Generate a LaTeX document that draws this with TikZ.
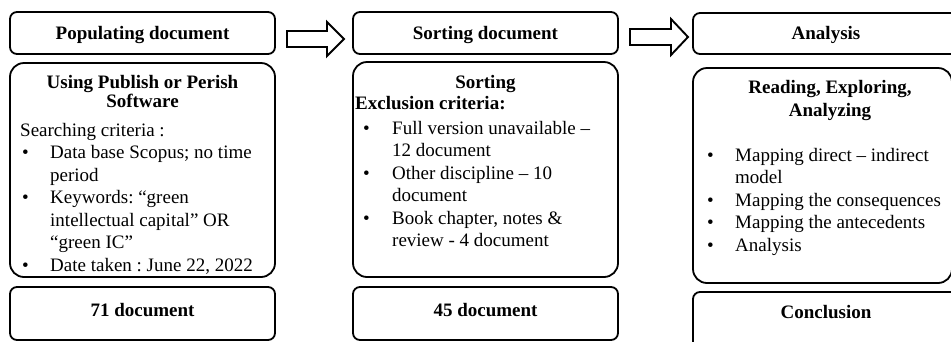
\documentclass[tikz,border=0pt]{standalone}
\usepackage{fontspec}
\setmainfont{Liberation Serif}
\usetikzlibrary{calc}
\frenchspacing
\begin{document}
\begin{tikzpicture}[x=1pt,y=-1pt,
  roundbox/.style={draw, line width=1.8pt, rounded corners=#1, inner sep=0pt},
  txt/.style={inner sep=0pt, font=\fontsize{19}{22.5}\selectfont},
  hd/.style={txt, font=\fontsize{19}{22.5}\selectfont\bfseries, anchor=base},
  lst/.style={txt, align=left, anchor=north west},
  arrowline/.style={draw, line width=1.9pt, line join=miter}]
\useasboundingbox (0,0) rectangle (951,341);
\clip (0,0) rectangle (951,341);
\fill[white] (0,0) rectangle (951,341);

% left column
\node[roundbox=7pt, minimum width=265pt, minimum height=42pt] (popbox) at (142.5,33) {};
\node[roundbox=14pt, minimum width=265pt, minimum height=214pt] (pubbox) at (142.5,170) {};
\node[roundbox=7pt, minimum width=265pt, minimum height=53pt] (b71) at (142.5,313.5) {};
% middle column
\node[roundbox=7pt, minimum width=265pt, minimum height=42pt] (sortbox) at (485.5,33) {};
\node[roundbox=14pt, minimum width=265pt, minimum height=215pt] (exbox) at (485.5,169.5) {};
\node[roundbox=7pt, minimum width=265pt, minimum height=53pt] (b45) at (485.5,313.5) {};
% right column
\node[roundbox=7pt, minimum width=265pt, minimum height=41pt] (anbox) at (825.5,33.5) {};
\node[roundbox=14pt, minimum width=259pt, minimum height=215pt] (readbox) at (822.5,175.5) {};
\node[roundbox=7pt, minimum width=265pt, minimum height=68pt] (conbox) at (825.5,326) {};

% block arrows between the top boxes
\coordinate (a1s) at (287,39);
\coordinate (a1t) at (344,39);
\coordinate (a2s) at (630,37);
\coordinate (a2t) at (688,37);
\draw[arrowline] let \p1=(a1s), \p2=(a1t) in
  (\x1,\y1+8pt) -- (\x2-17pt,\y1+8pt) -- (\x2-17pt,\y1+17pt) -- (\x2,\y1)
  -- (\x2-17pt,\y1-17pt) -- (\x2-17pt,\y1-8pt) -- (\x1,\y1-8pt) -- cycle;
\draw[arrowline] let \p1=(a2s), \p2=(a2t) in
  (\x1,\y1+8pt) -- (\x2-17pt,\y1+8pt) -- (\x2-17pt,\y1+18pt) -- (\x2,\y1)
  -- (\x2-17pt,\y1-18pt) -- (\x2-17pt,\y1-8pt) -- (\x1,\y1-8pt) -- cycle;

% left texts
\node[hd] (t1) at (142.5,39) {Populating document};
\node[hd] (t2) at (142.5,88) {Using Publish or Perish};
\node[hd] (t3) at (142.5,107) {Software};
\node[lst] (t4) at (20,120.25) {\strut Searching criteria :\\
\hspace*{2pt}\makebox[28pt][l]{•}Data base Scopus; no time\\
\hspace*{30pt}period\\
\hspace*{2pt}\makebox[28pt][l]{•}Keywords: “green\\
\hspace*{30pt}intellectual capital” OR\\
\hspace*{30pt}“green IC”\\
\hspace*{2pt}\makebox[28pt][l]{•}Date taken : June 22, 2022};
\node[hd] (t5) at (142.5,316) {71 document};

% middle texts
\node[hd] (m1) at (485.5,39) {Sorting document};
\node[hd] (m2) at (485.5,88) {Sorting};
\node[hd, anchor=base west] (m3) at (355,109) {Exclusion criteria:};
\node[lst] (m4) at (363,118.25) {\strut\makebox[29pt][l]{•}Full version unavailable –\\
\hspace*{29pt}12 document\\
\makebox[29pt][l]{•}Other discipline – 10\\
\hspace*{29pt}document\\
\makebox[29pt][l]{•}Book chapter, notes \&\\
\hspace*{29pt}review - 4 document};
\node[hd] (m5) at (485.5,316) {45 document};

% right texts
\node[hd] (r1) at (826,39) {Analysis};
\node[hd] (r2) at (830,93) {Reading, Exploring,};
\node[hd] (r3) at (830,116) {Analyzing};
\node[lst] (r4) at (707,145.25) {\strut\makebox[28pt][l]{•}Mapping direct – indirect\\
\hspace*{28pt}model\\
\makebox[28pt][l]{•}Mapping the consequences\\
\makebox[28pt][l]{•}Mapping the antecedents\\
\makebox[28pt][l]{•}Analysis};
\node[hd] (r5) at (826,318) {Conclusion};
\end{tikzpicture}
\end{document}
